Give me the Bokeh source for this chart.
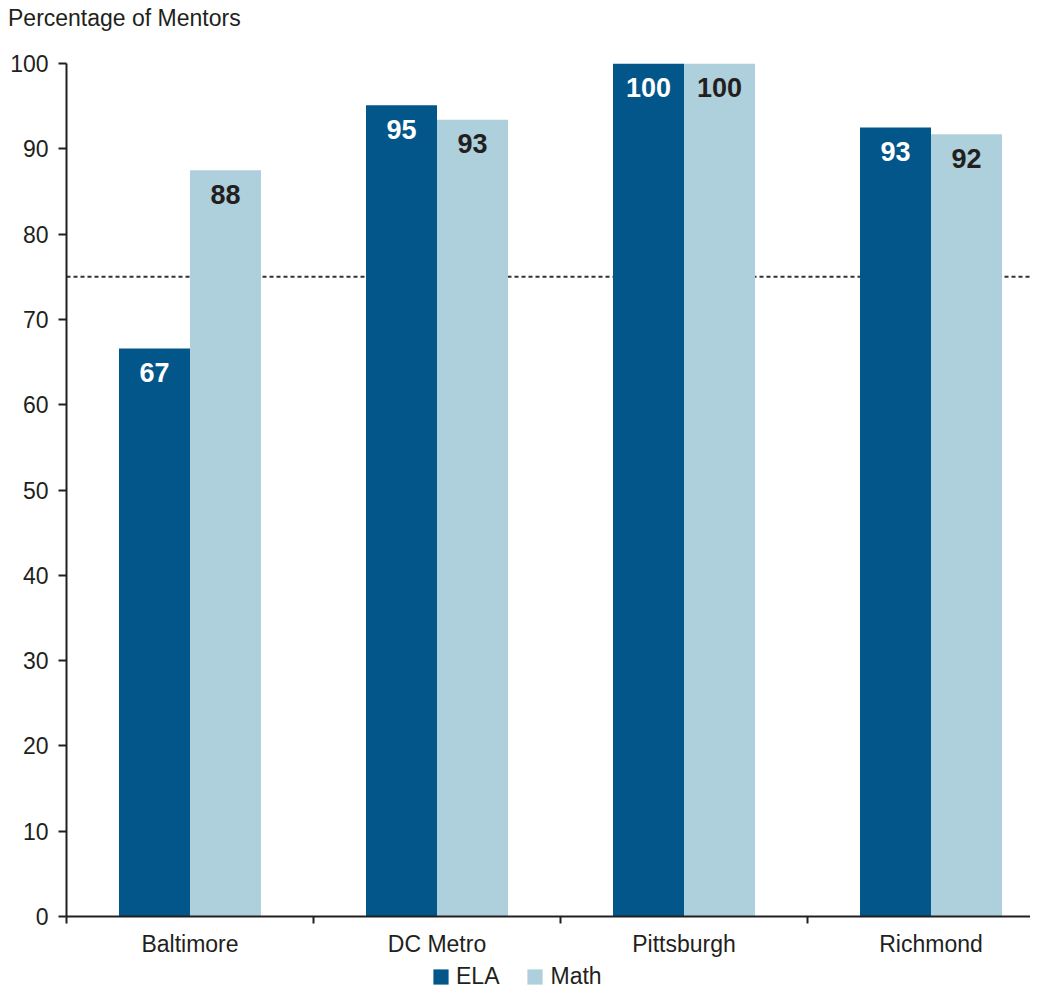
from bokeh.plotting import figure
from bokeh.models import (Range1d, FixedTicker, Span, Legend, LegendItem, ColumnDataSource, Div)
from bokeh.layouts import column
from bokeh.core.properties import value
from bokeh.embed import file_html
from bokeh.resources import INLINE

categories = ["Baltimore", "DC Metro", "Pittsburgh", "Richmond"]
ela = [66.6, 95.1, 100.0, 92.5]
math_vals = [87.5, 93.4, 100.0, 91.7]
ela_labels = ["67", "95", "100", "93"]
math_labels = ["88", "93", "100", "92"]
y_ticks = [0, 10, 20, 30, 40, 50, 60, 70, 80, 90, 100]
benchmark = 75
series_names = ["ELA", "Math"]

ELA_COLOR = "#02568A"
MATH_COLOR = "#AECFDC"
TEXT_COLOR = "#231F20"
FONT = "Liberation Sans"

W = 1030
TITLE_H = 36
FRAME_TOP = 63
FRAME_BOTTOM = 916
BOTTOM_BORDER = 45
MAIN_H = FRAME_BOTTOM - TITLE_H + BOTTOM_BORDER
LEG_H = 991 - TITLE_H - MAIN_H
left_border = 66
group_px = 247
x_end = (W - left_border) / group_px

title_div = Div(text="Percentage of Mentors", width=W, height=TITLE_H,
                margin=(0, 0, 0, 0),
                styles={"font-family": FONT, "font-size": "23px",
                        "color": TEXT_COLOR, "padding-left": "8px",
                        "line-height": "36px"})

p = figure(width=W, height=MAIN_H, output_backend="svg", toolbar_location=None,
           x_range=Range1d(0, x_end), y_range=Range1d(0, 100),
           min_border_left=left_border, min_border_right=0,
           min_border_top=FRAME_TOP - TITLE_H, min_border_bottom=BOTTOM_BORDER)
p.outline_line_color = None
p.grid.visible = False
p.background_fill_color = "white"

# benchmark dashed line (behind bars)
p.add_layout(Span(location=benchmark, dimension="width", line_color="#333333",
                  line_width=2, line_dash="4 3", level="underlay"))

bw = 71 / group_px
centers = [i + 0.5 for i in range(len(categories))]
src = ColumnDataSource(dict(
    x_ela=[c - bw / 2 for c in centers],
    x_math=[c + bw / 2 for c in centers],
    ela=ela, math=math_vals, ela_lab=ela_labels, math_lab=math_labels))

p.vbar(x="x_ela", top="ela", width=bw, bottom=0, source=src,
       fill_color=ELA_COLOR, line_color=None)
p.vbar(x="x_math", top="math", width=bw, bottom=0, source=src,
       fill_color=MATH_COLOR, line_color=None)

p.text(x="x_ela", y="ela", text="ela_lab", source=src, text_align="center",
       text_baseline="middle", y_offset=24, text_color="white",
       text_font=value(FONT), text_font_size="27px", text_font_style="bold")
p.text(x="x_math", y="math", text="math_lab", source=src, text_align="center",
       text_baseline="middle", y_offset=24, text_color=TEXT_COLOR,
       text_font=value(FONT), text_font_size="27px", text_font_style="bold")

# y axis
yax = p.yaxis[0]
yax.ticker = FixedTicker(ticks=y_ticks)
yax.axis_line_width = 2
yax.axis_line_color = TEXT_COLOR
yax.major_tick_line_width = 2
yax.major_tick_line_color = TEXT_COLOR
yax.major_tick_out = 8
yax.major_tick_in = 0
yax.minor_tick_line_color = None
yax.major_label_text_font = FONT
yax.major_label_text_font_size = "23px"
yax.major_label_text_color = TEXT_COLOR
yax.major_label_standoff = 10

# x axis
xax = p.xaxis[0]
xax.ticker = FixedTicker(ticks=centers, minor_ticks=list(range(len(categories) + 1)))
xax.major_label_overrides = {c: name for c, name in zip(centers, categories)}
xax.axis_line_width = 2
xax.axis_line_color = TEXT_COLOR
xax.major_tick_line_color = None
xax.major_tick_out = 0
xax.major_tick_in = 0
xax.minor_tick_line_width = 2
xax.minor_tick_line_color = TEXT_COLOR
xax.minor_tick_out = 7
xax.minor_tick_in = 0
xax.major_label_text_font = FONT
xax.major_label_text_font_size = "23px"
xax.major_label_text_color = TEXT_COLOR
xax.major_label_standoff = 7

# legend in its own strip below the chart
lf = figure(width=W, height=LEG_H, output_backend="svg", toolbar_location=None,
            x_range=Range1d(0, 1), y_range=Range1d(0, 1), min_border=0)
lf.axis.visible = False
lf.grid.visible = False
lf.outline_line_color = None
swatch_src = ColumnDataSource(dict(x=[0.5], top=[0.0]))
l_ela = lf.vbar(x="x", top="top", width=0.0, bottom=0.0, source=swatch_src,
                fill_color=ELA_COLOR, line_color=None)
l_math = lf.vbar(x="x", top="top", width=0.0, bottom=0.0, source=swatch_src,
                 fill_color=MATH_COLOR, line_color=None)
legend = Legend(items=[LegendItem(label=series_names[0], renderers=[l_ela]),
                       LegendItem(label=series_names[1], renderers=[l_math])],
                orientation="horizontal", location=(365, 1),
                label_text_font=FONT, label_text_font_size="23px",
                label_text_color=TEXT_COLOR, glyph_width=19, glyph_height=19,
                spacing=26, padding=0, margin=0, border_line_color=None,
                label_standoff=6, background_fill_alpha=0)
lf.add_layout(legend, "center")

layout = column(title_div, p, lf, spacing=0)
open("out.html", "w").write(file_html(layout, INLINE))
